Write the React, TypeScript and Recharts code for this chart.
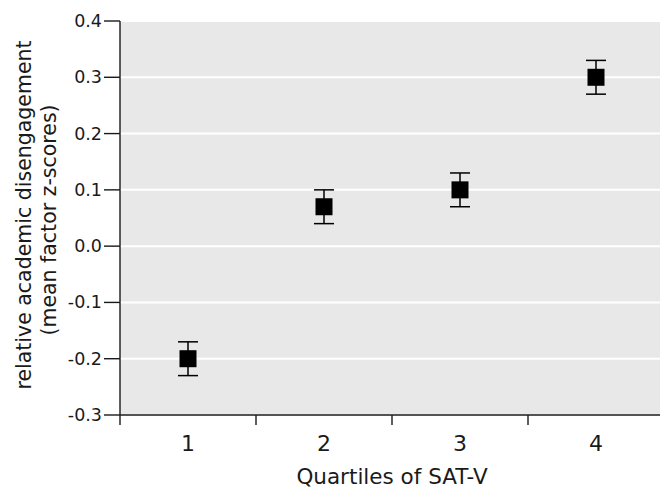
import React from "react";
import {
  ComposedChart,
  Scatter,
  ErrorBar,
  XAxis,
  YAxis,
  CartesianGrid,
} from "recharts";

const quartiles = [1, 2, 3, 4];
const meanScores = [-0.2, 0.07, 0.1, 0.3];
const errors = [0.03, 0.03, 0.03, 0.03];
const yTicks = [-0.3, -0.2, -0.1, 0.0, 0.1, 0.2, 0.3, 0.4];
const xTicks = [0.5, 1, 1.5, 2, 2.5, 3, 3.5, 4, 4.5];

const data = quartiles.map((q, i) => ({ q, v: meanScores[i], err: errors[i] }));

const FONT = "'DejaVu Sans', sans-serif";
const INK = "#1a1a1a";

function XTick(props: any) {
  const { x, y, payload } = props;
  const val = payload.value;
  if (Number.isInteger(val)) {
    return (
      <text x={x} y={y + 26} textAnchor="middle" fontSize={22} fill={INK} fontFamily={FONT}>
        {val}
      </text>
    );
  }
  return <line x1={x} x2={x} y1={y - 10} y2={y} stroke={INK} strokeWidth={1.4} />;
}

function YTick(props: any) {
  const { x, y, payload } = props;
  return (
    <text x={x} y={y + 6} textAnchor="end" fontSize={17.5} fill={INK} fontFamily={FONT}>
      {Number(payload.value).toFixed(1)}
    </text>
  );
}

function Square(props: any) {
  const { cx, cy } = props;
  return <rect x={cx - 8.5} y={cy - 8.5} width={17} height={17} fill="#000" />;
}

function YLabel() {
  return (
    <g fontFamily={FONT} fontSize={20.5} fill={INK} textAnchor="middle">
      <text transform="rotate(-90)" x={-215} y={31}>
        relative academic disengagement
      </text>
      <text transform="rotate(-90)" x={-220} y={56}>
        (mean factor z-scores)
      </text>
    </g>
  );
}

function XLabel() {
  return (
    <text x={392} y={484} textAnchor="middle" fontFamily={FONT} fontSize={21.5} fill={INK}>
      Quartiles of SAT-V
    </text>
  );
}

export default function App() {
  return (
    <div style={{ position: "absolute", left: 0, top: 0, width: 660, height: 489, overflow: "hidden", background: "#fff" }}>
      <ComposedChart width={664} height={489} data={data} margin={{ top: 21, right: 0, left: 0, bottom: 0 }}>
        <CartesianGrid horizontal vertical={false} stroke="#fff" strokeWidth={2} fill="#e8e8e8" />
        <XAxis
          dataKey="q"
          type="number"
          domain={[0.5, 4.5]}
          ticks={xTicks}
          height={74}
          tickSize={10}
          tickMargin={0}
          tickLine={false}
          axisLine={{ stroke: INK, strokeWidth: 1.4 }}
          tick={<XTick />}
          interval={0}
          label={<XLabel />}
        />
        <YAxis
          type="number"
          domain={[-0.3, 0.4]}
          ticks={yTicks}
          width={120}
          tickSize={16}
          tickMargin={2}
          interval={0}
          tick={<YTick />}
          tickLine={{ stroke: INK, strokeWidth: 1.4 }}
          axisLine={{ stroke: INK, strokeWidth: 1.4 }}
          label={<YLabel />}
        />
        <Scatter dataKey="v" shape={<Square />} isAnimationActive={false}>
          <ErrorBar dataKey="err" direction="y" width={10} stroke="#000" strokeWidth={1.5} />
        </Scatter>
      </ComposedChart>
    </div>
  );
}
